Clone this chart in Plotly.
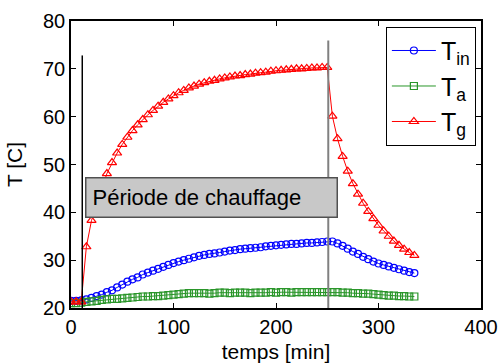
import plotly.graph_objects as go

# time [min]
t_min = [0, 5, 10, 15, 20, 25, 30, 35, 40, 45, 50, 55, 60, 65, 70, 75, 80, 85, 90, 95,
         100, 105, 110, 115, 120, 125, 130, 135, 140, 145, 150, 155, 160, 165, 170, 175,
         180, 185, 190, 195, 200, 205, 210, 215, 220, 225, 230, 235, 240, 245, 250, 255,
         260, 265, 270, 275, 280, 285, 290, 295, 300, 305, 310, 315, 320, 325, 330, 335]

T_in = [21.5, 21.5, 21.6, 21.8, 22.1, 22.5, 22.8, 23.3, 23.7, 24.3, 24.9, 25.5, 26.0, 26.4,
        27.0, 27.4, 27.8, 28.2, 28.6, 29.0, 29.4, 29.7, 30.0, 30.3, 30.6, 30.9, 31.1, 31.3,
        31.4, 31.6, 31.8, 32.0, 32.1, 32.3, 32.4, 32.5, 32.6, 32.7, 32.9, 33.0, 33.1, 33.2,
        33.3, 33.4, 33.4, 33.5, 33.6, 33.6, 33.7, 33.8, 33.9, 33.9, 33.5, 33.0, 32.4, 31.8,
        31.3, 30.7, 30.2, 29.7, 29.3, 29.0, 28.7, 28.4, 28.1, 27.8, 27.5, 27.3]

T_a = [21.0, 21.0, 21.1, 21.3, 21.4, 21.5, 21.7, 21.8, 21.9, 21.9, 22.0, 22.1, 22.2, 22.3,
       22.4, 22.4, 22.5, 22.5, 22.6, 22.7, 22.8, 22.9, 23.0, 23.1, 23.1, 23.1, 23.1, 23.0,
       23.1, 23.2, 23.2, 23.1, 23.2, 23.2, 23.2, 23.1, 23.2, 23.2, 23.2, 23.3, 23.2, 23.3,
       23.3, 23.2, 23.3, 23.3, 23.3, 23.3, 23.3, 23.3, 23.3, 23.3, 23.3, 23.2, 23.2, 23.1,
       23.1, 23.0, 23.0, 22.9, 22.8, 22.7, 22.6, 22.6, 22.5, 22.5, 22.4, 22.4]

T_g = [21.3, 21.3, 21.3, 32.8, 38.3, None, None, 48.1, 50.4, 52.4, 54.2, 55.7, 57.1, 58.3,
       59.4, 60.4, 61.3, 62.2, 63.0, 63.7, 64.4, 65.0, 65.5, 66.0, 66.4, 66.8, 67.1, 67.4,
       67.6, 67.9, 68.1, 68.3, 68.5, 68.6, 68.8, 68.9, 69.1, 69.2, 69.3, 69.5, 69.6, 69.7,
       69.8, 69.9, 70.0, 70.0, 70.1, 70.2, 70.2, 70.3, 70.3, 60.1, 55.4, 51.7, 48.6, 46.0,
       43.8, 41.9, 40.2, 38.7, 37.3, 36.1, 35.0, 34.0, 33.1, 32.3, 31.6, 31.0]

series_names = ["T<sub>in</sub>", "T<sub>a</sub>", "T<sub>g</sub>"]
x_ticks = [0, 100, 200, 300, 400]
y_ticks = [20, 30, 40, 50, 60, 70, 80]

heating_start = 11
heating_end = 251
start_line_top = 72.8
end_line_top = 75.9

FONT = "Liberation Sans, Arial, sans-serif"

fig = go.Figure()
fig.add_trace(go.Scatter(x=t_min, y=T_in, name=series_names[0], mode="lines+markers",
                         line=dict(color="#0000ff", width=1),
                         marker=dict(symbol="circle-open", size=7, color="#0000ff",
                                     line=dict(width=1.2))))
fig.add_trace(go.Scatter(x=t_min, y=T_a, name=series_names[1], mode="lines+markers",
                         line=dict(color="#2a962a", width=1),
                         marker=dict(symbol="square-open", size=7, color="#2a962a",
                                     line=dict(width=1.2))))
fig.add_trace(go.Scatter(x=t_min, y=T_g, name=series_names[2], mode="lines+markers",
                         connectgaps=True,
                         line=dict(color="#ff0000", width=1),
                         marker=dict(symbol="triangle-up-open", size=8, color="#ff0000",
                                     line=dict(width=1.2))))

fig.add_shape(type="line", xref="x", yref="y", x0=heating_start, x1=heating_start,
              y0=20, y1=start_line_top, line=dict(color="black", width=1.5), layer="above")
fig.add_shape(type="line", xref="x", yref="y", x0=heating_end, x1=heating_end,
              y0=20, y1=end_line_top, line=dict(color="#808080", width=2), layer="above")

fig.add_annotation(x=136.6, y=43.2, xref="x", yref="y", showarrow=False,
                   text="Période de chauffage", align="left",
                   width=238, height=26, borderpad=6, borderwidth=1.5,
                   bordercolor="#505050", bgcolor="#c8c8c8",
                   font=dict(family=FONT, size=22, color="black"))

axis_common = dict(showline=True, linecolor="black", linewidth=1.5, mirror="allticks",
                   ticks="inside", ticklen=5, tickcolor="black", tickwidth=1,
                   showgrid=False, zeroline=False, automargin=False,
                   tickfont=dict(family=FONT, size=20, color="black"))

fig.update_xaxes(range=[0, 400], tickvals=x_ticks,
                 title=dict(text="temps [min]", font=dict(family=FONT, size=21, color="black")),
                 **axis_common)
fig.update_yaxes(range=[20, 80], tickvals=y_ticks,
                 title=dict(text="T [C]", font=dict(family=FONT, size=21, color="black")),
                 **axis_common)

fig.update_layout(
    width=500, height=363,
    margin=dict(l=71, r=19, t=21, b=55),
    paper_bgcolor="white", plot_bgcolor="white",
    font=dict(family=FONT, color="black"),
    legend=dict(x=0.768, y=0.98, xanchor="left", yanchor="top",
                bgcolor="white", bordercolor="black", borderwidth=1,
                font=dict(family=FONT, size=25, color="black"),
                itemwidth=44, tracegroupgap=0),
)

fig.write_html("out.html", config={"displayModeBar": False},
               post_script="document.body.style.margin='0';document.body.style.padding='0';")
